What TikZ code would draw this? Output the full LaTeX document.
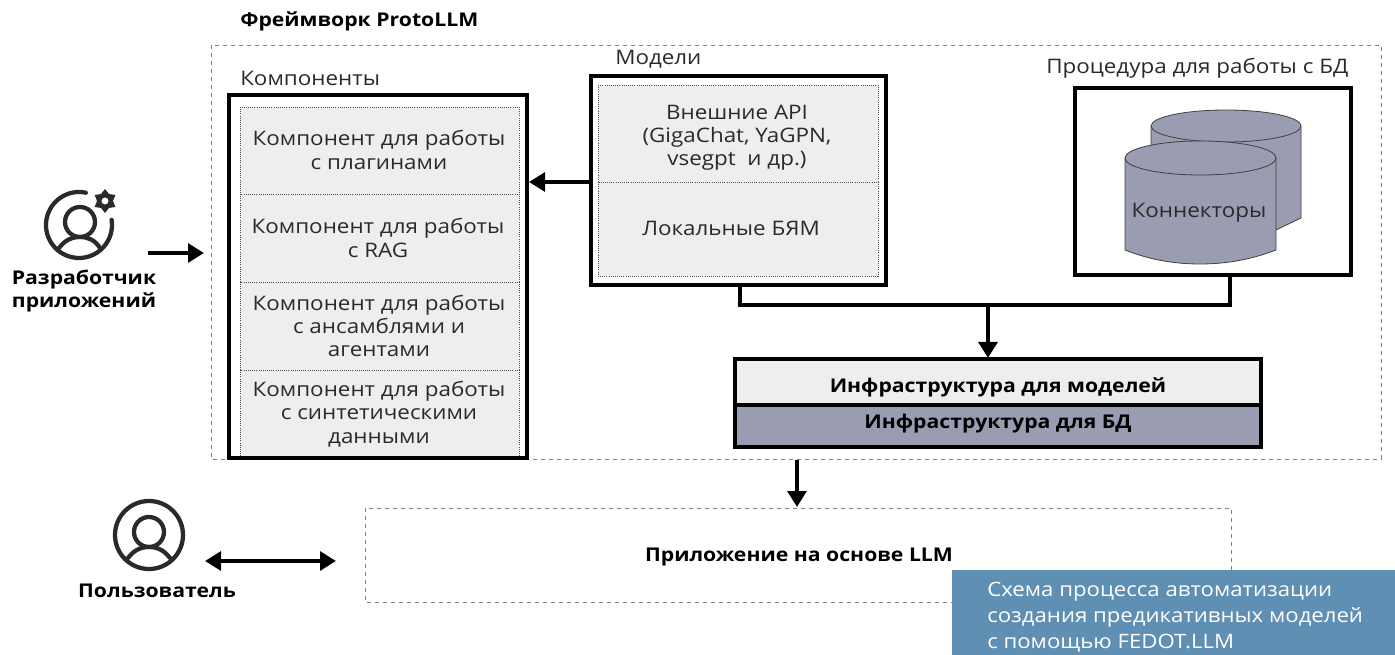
\documentclass[tikz,border=0pt]{standalone}
\usepackage{fontspec}
\setmainfont[FakeStretch=1.12]{Open Sans}
\usetikzlibrary{arrows.meta}
\definecolor{cellgray}{HTML}{EEEEEE}
\definecolor{slate}{HTML}{9A9CB2}
\definecolor{capblue}{HTML}{5F8FB2}
\definecolor{ink}{HTML}{2A2A2A}
\tikzset{
  x=0.75pt,y=-0.75pt,
  lab/.style={font=\fontsize{15}{17.4}\selectfont,text=ink,align=center,inner sep=0},
  bold/.style={font=\fontsize{14.2}{17}\selectfont\bfseries,text=black,align=center,inner sep=0},
  outer/.style={draw=black,line width=3pt},
  cell/.style={fill=cellgray,draw=black!70,densely dotted,line width=0.6pt},
  dashbox/.style={draw=black!50,line width=0.6pt,dash pattern=on 3pt off 3pt},
  conn/.style={line width=3pt,black},
  arr/.style={conn,-{Triangle[length=12pt,width=14pt]}},
  cyl/.style={fill=slate,draw=black!75,line width=0.6pt},
  icon/.style={draw=ink,line width=3.2pt,line cap=round}
}
\begin{document}
\begin{tikzpicture}
\useasboundingbox (0,0) rectangle (1395,655);
% framework
\node[bold,anchor=west] (ttl) at (240,21) {Фреймворк ProtoLLM};
\draw[dashbox] (211,45) rectangle (1381,459);
\coordinate (fwleft) at (204,253);
% components
\node[lab,anchor=west] (tk) at (240,78) {Компоненты};
\fill[white] (229,95) rectangle (527,458);
\draw[cell] (240,107) rectangle (519,194);
\draw[cell] (240,194) rectangle (519,282);
\draw[cell] (240,282) rectangle (519,370);
\draw[cell] (240,370) rectangle (519,458);
\draw[outer] (229,95) rectangle (527,458);
\coordinate (compr) at (529,182);
\node[lab] (c1) at (379,150) {Компонент для работы\\с плагинами};
\node[lab] (c2) at (378,238) {Компонент для работы\\с RAG};
\node[lab] (c3) at (379,326) {Компонент для работы\\с ансамблями и\\агентами};
\node[lab] (c4) at (379,414) {Компонент для работы\\с синтетическими\\данными};
% models
\node[lab,anchor=west] (tm) at (615,59) {Модели};
\draw[cell] (598,85) rectangle (878,182);
\draw[cell] (598,182) rectangle (878,276);
\draw[outer] (591,76) rectangle (886,285);
\node[lab] (m1) at (737,138) {Внешние API\\(GigaChat, YaGPN,\\vsegpt~ и др.)};
\node[lab] (m2) at (731,228) {Локальные БЯМ};
\coordinate (modl) at (591,182);
\coordinate (modb) at (740,285);
% procedure
\node[lab,anchor=west] (tp) at (1046,68) {Процедура для работы с БД};
\draw[outer] (1075,88) rectangle (1351,275);
\coordinate (prob) at (1230,275);
% cylinders
\draw[cyl] (1151,126) -- (1151,230) -- (1276,230) -- (1301,218) -- (1301,126) -- cycle;
\draw[cyl] (1226,126) ellipse [x radius=75, y radius=16];
\draw[cyl] (1125,158) -- (1125,250) .. controls (1150,260) and (1175,264) .. (1200,264) .. controls (1225,264) and (1250,260) .. (1276,250) -- (1276,158) -- cycle;
\draw[cyl] (1200.5,158) ellipse [x radius=75.5, y radius=17];
\node[lab] (conn) at (1199,213) {Коннекторы};
% infrastructure
\fill[cellgray] (735,359) rectangle (1261,405);
\fill[slate] (735,405) rectangle (1261,447);
\draw[outer] (735,359) rectangle (1261,447);
\draw[outer] (735,405) -- (1261,405);
\node[bold] (i1) at (998,387) {Инфраструктура для моделей};
\node[bold] (i2) at (998,424) {Инфраструктура для БД};
\coordinate (inft) at (988,358);
\coordinate (junc) at (988,305);
\draw[conn] (modb) |- (junc) -| (prob);
\draw[arr] (junc) -- (inft);
\draw[arr] (modl) -- (compr);
% app
\draw[dashbox] (365,508) rectangle (1231,602);
\node[bold] (app) at (799,557) {Приложение на основе LLM};
\coordinate (inf3) at (797,460);
\coordinate (appt) at (797,507);
\draw[arr] (inf3) -- (appt);
% developer
\draw[icon] ([shift={(79,225)}]-78:33) arc (-78:-369:33);
\begin{scope}[shift={(105,201)}]
\fill[ink,even odd rule] (-90:12) -- (-60:8) -- (-30:12) -- (0:8) -- (30:12) -- (60:8) -- (90:12) -- (120:8) -- (150:12) -- (180:8) -- (210:12) -- (240:8) -- cycle (0,0) circle (3.6);
\end{scope}
\draw[icon] (80,222) circle (15);
\draw[icon] (59,248) .. controls (65,240) and (72,237) .. (80,237) .. controls (88,237) and (95,240) .. (100,248);
\node[bold] (dev) at (84,291) {Разработчик\\приложений};
\coordinate (devr) at (148,253);
\draw[arr] (devr) -- (fwleft);
% user
\draw[icon] (149,535) circle (34);
\draw[icon] (149,532) circle (15);
\draw[icon] (128,558) .. controls (134,550) and (141,547) .. (149,547) .. controls (157,547) and (164,550) .. (170,558);
\node[bold] (usr) at (157,591) {Пользователь};
\coordinate (ua) at (205,561);
\coordinate (ub) at (336,561);
\draw[conn,{Triangle[length=12pt,width=14pt]}-{Triangle[length=12pt,width=14pt]}] (ua) -- (ub);
% caption
\fill[capblue] (952,570) rectangle (1395,655);
\node[font=\fontsize{14.85}{19.3}\selectfont,text=white,align=left,anchor=north west,inner sep=0] (cap) at (987,582) {Схема процесса автоматизации\\создания предикативных моделей\\с помощью FEDOT.LLM};
\end{tikzpicture}
\end{document}
